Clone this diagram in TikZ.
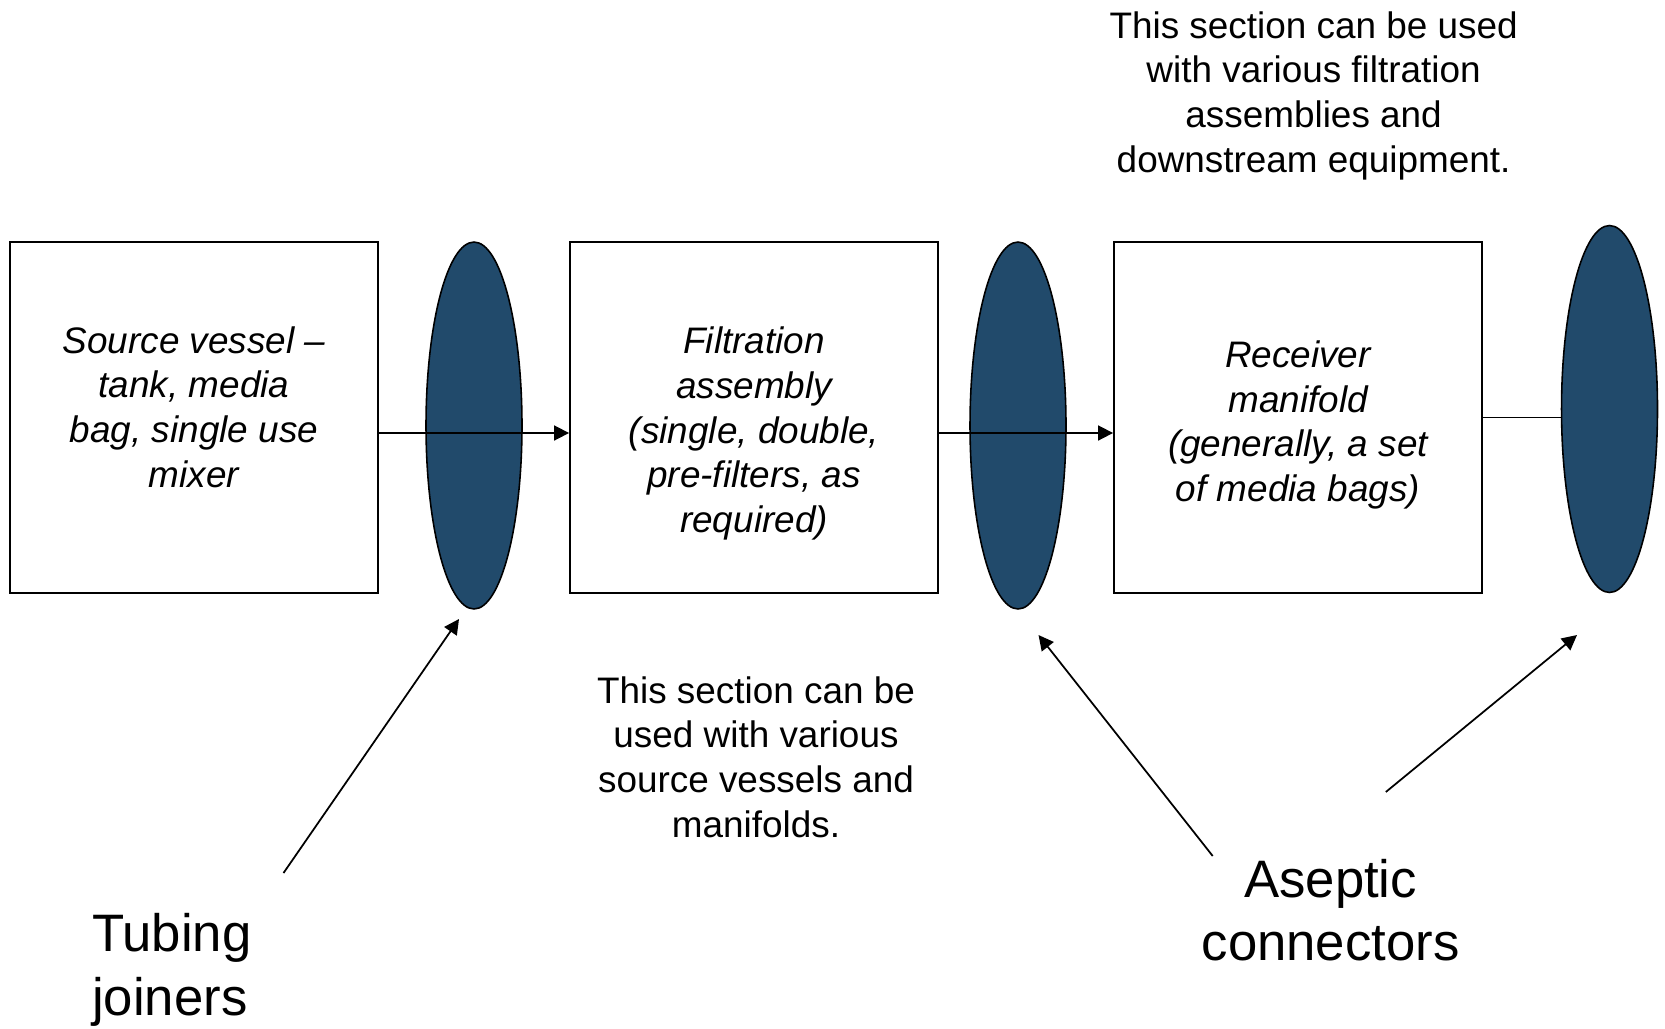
\documentclass[tikz,border=0pt]{standalone}
\usepackage{fontspec}
\setmainfont{Liberation Sans}
\usetikzlibrary{shapes.geometric}
\usetikzlibrary{arrows.meta}

\definecolor{joinerblue}{RGB}{33,74,107}

\tikzset{
  stage/.style={draw, line width=1.1pt, minimum width=7.36cm, minimum height=7.02cm},
  stagetext/.style={align=center, font=\fontsize{21}{25.4}\selectfont\itshape},
  joiner/.style={ellipse, draw, line width=0.9pt, fill=joinerblue,
    minimum width=1.92cm, minimum height=7.34cm, inner sep=0pt},
  note/.style={align=center, font=\fontsize{21}{25.4}\selectfont},
  callout/.style={align=center, font=\fontsize{30}{36.2}\selectfont},
  flow/.style={line width=1pt, -{Triangle[length=0.3cm, width=0.3cm]}}
}

\begin{document}
\begin{tikzpicture}[x=0.02cm, y=-0.02cm]
  \useasboundingbox (0, 0) rectangle (1665, 1028);

  \node[joiner] (joinA) at (474, 425.5) {};
  \node[joiner] (joinB) at (1018, 425.5) {};
  \node[joiner] (joinC) at (1609.5, 409) {};

  \node[stage] (source) at (194, 417.5) {};
  \node[stage] (filter) at (754, 417.5) {};
  \node[stage] (receiver) at (1298, 417.5) {};

  \node[stagetext] (sourcetext) at (194, 407) {Source vessel –\\tank, media\\bag, single use\\mixer};
  \node[stagetext] (filtertext) at (754, 433.5) {Filtration\\assembly\\(single, double,\\pre-filters, as\\required)};
  \node[stagetext] (receivertext) at (1298, 425) {Receiver\\manifold\\(generally, a set\\of media bags)};

  \draw[flow] ([yshift=-0.31cm]source.east) -- ([yshift=-0.31cm]filter.west);
  \draw[flow] ([yshift=-0.31cm]filter.east) -- ([yshift=-0.31cm]receiver.west);
  \draw[line width=1pt] (receiver.east) -- (receiver.east -| joinC.west);

  \node[note] (notetop) at (1313.6, 95.6) {This section can be used\\with various filtration\\assemblies and\\downstream equipment.};
  \node[note] (notemid) at (756, 757) {This section can be\\used with various\\source vessels and\\manifolds.};

  \node[callout, align=left, anchor=west] (tubing) at (86, 970) {Tubing\\joiners};
  \node[callout] (aseptic) at (1330.6, 910) {Aseptic\\connectors};

  % pointers
  \coordinate (tubingtail) at (283.5, 873);
  \coordinate (tubingtip) at (459, 619);
  \coordinate (aseptictailA) at (1212.7, 856);
  \coordinate (aseptictipA) at (1038.5, 635);
  \coordinate (aseptictailB) at (1385.8, 792);
  \coordinate (aseptictipB) at (1577, 635);

  \draw[flow] (tubingtail) -- (tubingtip);
  \draw[flow] (aseptictailA) -- (aseptictipA);
  \draw[flow] (aseptictailB) -- (aseptictipB);
\end{tikzpicture}
\end{document}
